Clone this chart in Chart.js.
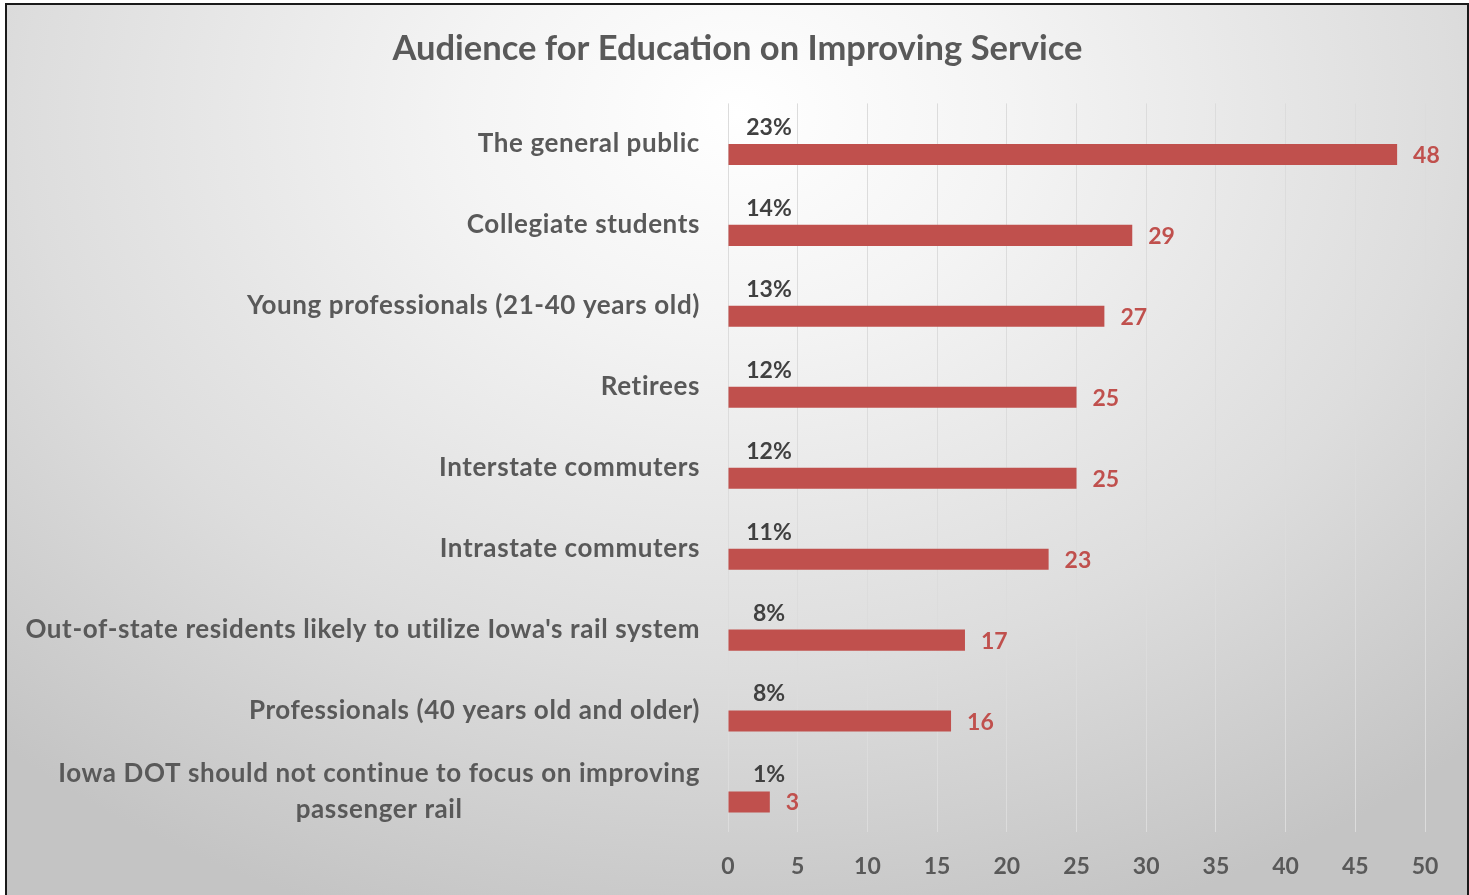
<!DOCTYPE html>
<html>
<head>
<meta charset="utf-8">
<script src="https://cdn.jsdelivr.net/npm/chart.js@4.4.1/dist/chart.umd.min.js"></script>
<style>
    html, body { margin: 0; padding: 0; background: #ffffff; overflow: hidden; }
    #frame {
        position: absolute; left: 5px; top: 3px; width: 1460px; height: 900px;
        border: 2px solid #1a1a1a;
        background: radial-gradient(ellipse 75% 95% at 50% 12%, #ffffff 0%, #f4f4f4 25%, #dddddd 65%, #c4c4c4 100%);
    }
    #wrap { position: absolute; left: 0; top: 0; width: 1469px; height: 895px; }
</style>
</head>
<body>
<div id="frame"></div>
<div id="wrap"><canvas id="chart" width="1469" height="895"></canvas></div>
<script>
const categories = [
    'The general public',
    'Collegiate students',
    'Young professionals (21-40 years old)',
    'Retirees',
    'Interstate commuters',
    'Intrastate commuters',
    "Out-of-state residents likely to utilize Iowa's rail system",
    'Professionals (40 years old and older)',
    ['Iowa DOT should not continue to focus on improving', 'passenger rail']
];
const counts = [48, 29, 27, 25, 25, 23, 17, 16, 3];
const shares = [0.23, 0.14, 0.13, 0.12, 0.12, 0.11, 0.08, 0.08, 0.01];
const xTicks = [0, 5, 10, 15, 20, 25, 30, 35, 40, 45, 50];

const FONT = 'Lato, "Open Sans", sans-serif';

// draws category names, the share labels and the count labels
const labelPlugin = {
    id: 'labels',
    afterDatasetsDraw(chart) {
        const ctx = chart.ctx;
        const yScale = chart.scales.y;
        const xScale = chart.scales.x;
        const shareMeta = chart.getDatasetMeta(0);
        const countMeta = chart.getDatasetMeta(1);
        ctx.save();
        ctx.textBaseline = 'middle';

        // category labels
        ctx.font = 'bold 26px ' + FONT;
        ctx.letterSpacing = '0.6px';
        ctx.fillStyle = '#595959';
        categories.forEach((cat, i) => {
            const y = yScale.getPixelForTick(i);
            const right = yScale.right - 28;
            if (Array.isArray(cat)) {
                const widest = Math.max(...cat.map(t => ctx.measureText(t).width));
                const mid = right - widest / 2;
                ctx.textAlign = 'center';
                cat.forEach((line, j) => {
                    ctx.fillText(line, mid, y + (j - (cat.length - 1) / 2) * 36);
                });
            } else {
                ctx.textAlign = 'right';
                ctx.fillText(cat, right, y);
            }
        });
        ctx.letterSpacing = '0px';

        // share labels above the bars
        ctx.font = 'bold 23px ' + FONT;
        ctx.fillStyle = '#404040';
        ctx.textAlign = 'center';
        shareMeta.data.forEach((bar, i) => {
            ctx.fillText(Math.round(shares[i] * 100) + '%', xScale.getPixelForValue(0) + 41, bar.y - 6);
        });

        // count labels right of the bars
        ctx.fillStyle = '#C0504D';
        ctx.textAlign = 'left';
        countMeta.data.forEach((bar, i) => {
            ctx.fillText(String(counts[i]), bar.x + 16, bar.y + 1);
        });
        ctx.restore();
    }
};

new Chart(document.getElementById('chart').getContext('2d'), {
    type: 'bar',
    data: {
        labels: categories,
        datasets: [
            {
                label: 'Share',
                data: shares,
                backgroundColor: 'rgba(0,0,0,0)',
                categoryPercentage: 0.52,
                barPercentage: 1
            },
            {
                label: 'Responses',
                data: counts,
                backgroundColor: '#C0504D',
                categoryPercentage: 0.52,
                barPercentage: 1
            }
        ]
    },
    plugins: [labelPlugin],
    options: {
        indexAxis: 'y',
        responsive: false,
        animation: false,
        layout: { padding: { left: 50, right: 44, top: 0, bottom: 0 } },
        plugins: {
            legend: { display: false },
            tooltip: { enabled: false },
            title: {
                display: true,
                text: 'Audience for Education on Improving Service',
                color: '#595959',
                font: { family: FONT, size: 34.5, weight: 'bold', lineHeight: 1.2 },
                padding: { top: 28, bottom: 34 }
            }
        },
        scales: {
            x: {
                min: 0,
                max: 50,
                afterBuildTicks: scale => { scale.ticks = xTicks.map(v => ({ value: v })); },
                afterFit: scale => { scale.height = 63; },
                grid: { color: '#dcdcdc', lineWidth: 1, drawTicks: false },
                border: { display: false },
                ticks: {
                    color: '#595959',
                    padding: 21,
                    font: { family: FONT, size: 23, weight: 'bold' }
                }
            },
            y: {
                afterFit: scale => { scale.width = 678; },
                grid: { display: false },
                border: { display: false },
                ticks: { display: false }
            }
        }
    }
});
</script>
</body>
</html>
